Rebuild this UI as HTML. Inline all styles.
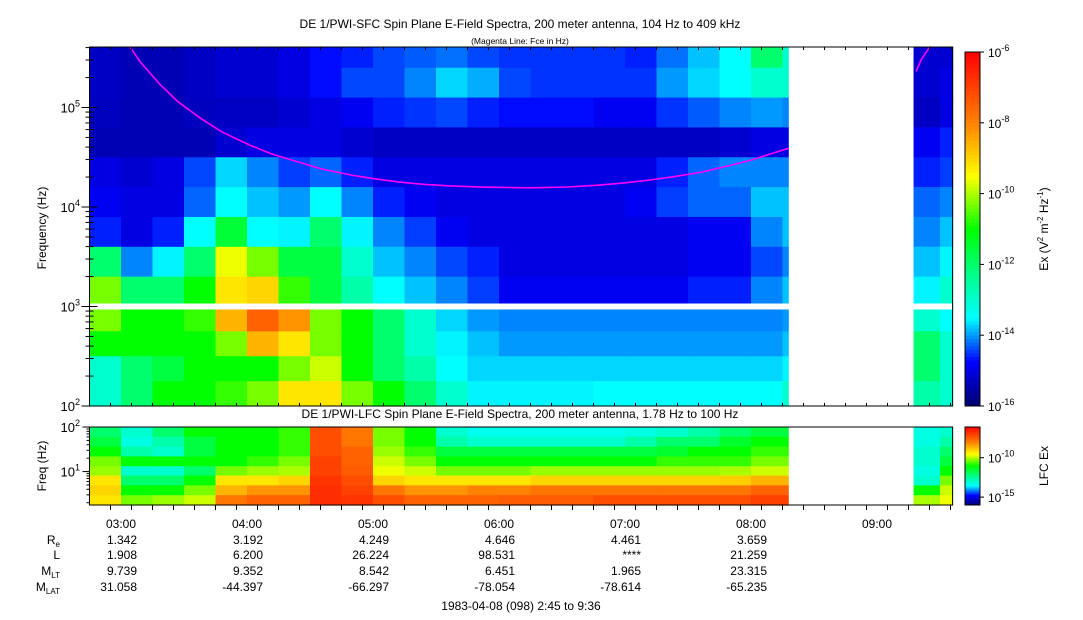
<!DOCTYPE html>
<html><head><meta charset="utf-8">
<style>
html,body{margin:0;padding:0;background:#fff;}
svg{display:block;font-family:"Liberation Sans",Arial,sans-serif;}
text{fill:#000;}
</style></head>
<body>
<svg id="chart" width="1083" height="620" viewBox="0 0 1083 620" xmlns="http://www.w3.org/2000/svg">
<text x="520" y="28" font-size="12" text-anchor="middle">DE 1/PWI-SFC  Spin Plane E-Field Spectra, 200 meter antenna, 104 Hz to 409 kHz</text>
<text x="520" y="44" font-size="8.5" text-anchor="middle">(Magenta Line: Fce in Hz)</text>
<text x="520" y="418" font-size="12" text-anchor="middle">DE 1/PWI-LFC  Spin Plane E-Field Spectra, 200 meter antenna, 1.78 Hz to 100 Hz</text>
<g id="sfc"></g>
<g id="lfc"></g>
<g id="axes"></g>
<text transform="translate(46,228) rotate(-90)" font-size="12" text-anchor="middle">Frequency (Hz)</text>
<text transform="translate(46,466) rotate(-90)" font-size="12" text-anchor="middle">Freq (Hz)</text>
<text transform="translate(1048,229) rotate(-90)" font-size="12" text-anchor="middle">Ex (V<tspan font-size="8" dy="-5">2</tspan><tspan dy="5"> m</tspan><tspan font-size="8" dy="-5">-2</tspan><tspan dy="5"> Hz</tspan><tspan font-size="8" dy="-5">-1</tspan><tspan dy="5">)</tspan></text>
<text transform="translate(1048,466) rotate(-90)" font-size="12" text-anchor="middle">LFC Ex</text>
<text x="521" y="610" font-size="12" text-anchor="middle">1983-04-08 (098) 2:45 to 9:36</text>
</svg>
<script>
// ---- data ----
const binHours = [2.75,3.0,3.25,3.5,3.75,4.0,4.25,4.5,4.75,5.0,5.25,5.5,5.75,6.0,6.25,6.5,6.75,7.0,7.25,7.5,7.75,8.0,8.25,8.5,8.75,9.0,9.25,9.5];
const sfcRowEdges = [5.61,5.4,5.1,4.8,4.5,4.2,3.9,3.6,3.3,3.0,2.75,2.5,2.25,2.0];
const sfcU8=[-15.25,-15.4,-15.4,-15.25,-15.15,-15.15,-15.0,-14.7,-14.6,-14.4,-14.3,-14.2,-14.4,-14.5,-14.5,-14.5,-14.5,-14.6,-14.2,-13.8,-13.5,-12.0,-13.0,null,null,null,-15.15,-15.15];
const sfcU7=[-15.25,-15.4,-15.4,-15.25,-15.15,-15.15,-15.0,-14.7,-14.4,-14.4,-14.1,-13.7,-13.9,-14.4,-14.5,-14.5,-14.5,-14.5,-14.0,-13.7,-13.5,-13.0,-13.0,null,null,null,-15.15,-15.0];
const sfcU6=[-15.3,-15.4,-15.4,-15.3,-15.25,-15.25,-15.15,-15.0,-14.85,-14.6,-14.5,-14.4,-14.6,-14.7,-14.7,-14.7,-14.85,-14.85,-14.5,-14.3,-14.1,-14.0,-14.1,null,null,null,-15.25,-15.0];
const sfcU5=[-15.4,-15.4,-15.4,-15.4,-15.15,-15.0,-15.0,-15.0,-15.15,-15.25,-15.25,-15.25,-15.25,-15.25,-15.25,-15.25,-15.25,-15.25,-15.25,-15.25,-15.15,-15.0,-15.0,null,null,null,-14.85,-14.6];
const sfcU4=[-15.0,-15.15,-15.0,-14.4,-13.7,-14.1,-14.45,-14.25,-14.6,-15.0,-15.0,-15.0,-15.0,-15.0,-15.0,-15.0,-15.0,-15.0,-14.6,-14.25,-14.1,-14.1,-14.1,null,null,null,-14.6,-14.45];
const sfcU3=[-14.85,-15.0,-15.0,-14.25,-13.5,-13.8,-14.0,-13.5,-14.1,-14.6,-14.85,-15.0,-15.0,-15.0,-15.0,-15.0,-15.0,-14.85,-14.45,-14.25,-14.25,-13.8,-13.8,null,null,null,-14.25,-14.1];
const sfcU2=[-14.6,-15.0,-14.6,-13.5,-11.5,-13.5,-13.55,-12.0,-13.55,-14.1,-14.45,-14.85,-15.0,-15.0,-15.0,-15.0,-15.0,-15.0,-15.0,-14.85,-14.85,-14.1,-13.8,null,null,null,-14.1,-13.8];
const sfcU1=[-12.0,-14.1,-13.55,-12.0,-9.6,-10.3,-11.6,-11.6,-13.0,-13.8,-14.1,-14.4,-14.6,-15.0,-15.0,-15.0,-15.0,-15.0,-15.0,-14.85,-14.85,-14.4,-14.1,null,null,null,-13.8,-13.55];
const sfcU0=[-10.3,-12.0,-12.0,-11.0,-9.2,-9.0,-10.7,-11.6,-12.6,-13.5,-13.8,-14.1,-14.45,-14.85,-14.85,-14.85,-14.85,-14.85,-14.85,-14.6,-14.6,-14.1,-13.8,null,null,null,-13.55,-13.0];
const sfcL3=[-10.3,-11.0,-11.0,-10.7,-8.6,-7.5,-8.2,-10.3,-11.0,-12.0,-13.0,-13.7,-14.0,-14.1,-14.1,-14.1,-14.1,-14.1,-14.1,-14.1,-14.1,-14.1,-14.0,null,null,null,-13.0,-13.5];
const sfcL2=[-11.0,-11.0,-11.0,-11.0,-10.3,-8.6,-9.2,-10.3,-11.0,-12.0,-13.0,-13.55,-13.8,-14.0,-14.0,-14.0,-14.0,-14.0,-14.0,-14.0,-14.0,-14.0,-13.8,null,null,null,-12.0,-13.0];
const sfcL1=[-13.0,-12.0,-11.6,-11.0,-11.0,-11.0,-10.3,-9.8,-11.0,-12.0,-12.6,-13.5,-13.7,-13.7,-13.7,-13.7,-13.7,-13.7,-13.7,-13.7,-13.7,-13.7,-13.55,null,null,null,-12.0,-13.0];
const sfcL0=[-13.0,-12.0,-11.0,-11.0,-10.7,-10.3,-9.2,-9.2,-10.3,-11.0,-12.0,-13.0,-13.55,-13.55,-13.55,-13.55,-13.5,-13.5,-13.5,-13.5,-13.5,-13.5,-13.0,null,null,null,-12.6,-13.0];
const sfcRows=[sfcU8,sfcU7,sfcU6,sfcU5,sfcU4,sfcU3,sfcU2,sfcU1,sfcU0,sfcL3,sfcL2,sfcL1,sfcL0];

const lfcRowEdges=[2.0,1.78,1.56,1.34,1.12,0.91,0.69,0.47,0.25];
const lfcR7=[-12.0,-13.0,-12.0,-11.0,-11.0,-11.0,-10.7,-7.2,-7.8,-10.3,-11.0,-13.0,-13.3,-13.3,-13.3,-13.3,-13.3,-13.2,-13.0,-12.6,-12.0,-11.6,-11.6,null,null,null,-13.2,-13.0];
const lfcR6=[-11.6,-13.2,-12.6,-11.6,-11.0,-11.0,-10.7,-7.2,-7.8,-10.3,-11.0,-12.6,-13.0,-13.0,-13.0,-13.0,-13.0,-12.6,-12.0,-12.0,-11.4,-11.0,-11.0,null,null,null,-13.2,-12.6];
const lfcR5=[-11.0,-12.6,-13.0,-11.6,-11.0,-11.0,-10.7,-7.2,-7.5,-10.1,-10.7,-11.6,-11.6,-11.6,-11.6,-11.6,-11.6,-11.6,-11.4,-11.0,-11.0,-10.7,-10.7,null,null,null,-13.0,-12.0];
const lfcR4=[-10.3,-11.0,-11.0,-11.0,-11.0,-10.7,-10.3,-7.0,-7.5,-9.8,-10.3,-11.0,-11.0,-11.0,-11.0,-11.0,-11.0,-11.0,-10.7,-10.7,-10.7,-10.3,-10.3,null,null,null,-13.0,-11.6];
const lfcR3=[-10.1,-13.0,-13.0,-12.0,-10.3,-10.1,-10.0,-7.0,-7.4,-9.6,-9.8,-10.3,-10.3,-10.3,-10.1,-10.1,-10.1,-10.1,-10.1,-10.1,-10.0,-9.8,-9.8,null,null,null,-13.2,-11.0];
const lfcR2=[-9.2,-12.0,-12.0,-11.0,-9.2,-9.2,-9.0,-6.8,-7.2,-9.0,-9.2,-9.2,-9.2,-9.2,-9.0,-9.0,-9.0,-9.0,-9.0,-9.0,-8.9,-8.6,-8.6,null,null,null,-13.0,-10.3];
const lfcR1=[-9.0,-11.0,-11.0,-10.3,-8.6,-8.2,-8.2,-6.7,-7.0,-7.8,-8.2,-8.2,-8.0,-8.0,-7.8,-7.8,-7.8,-7.8,-7.8,-7.8,-7.8,-7.5,-7.5,null,null,null,-11.0,-9.8];
const lfcR0=[-9.2,-10.3,-10.1,-9.8,-7.8,-7.5,-7.5,-6.7,-6.8,-7.2,-7.5,-7.5,-7.5,-7.4,-7.4,-7.4,-7.2,-7.2,-7.2,-7.2,-7.2,-7.0,-7.0,null,null,null,-10.0,-9.6];
const lfcRows=[lfcR7,lfcR6,lfcR5,lfcR4,lfcR3,lfcR2,lfcR1,lfcR0];

const fceHours1=[3.07,3.15,3.31,3.45,3.63,3.80,4.02,4.20,4.42,4.60,4.82,5.00,5.21,5.40,5.61,5.90,6.25,6.55,6.80,7.00,7.20,7.40,7.60,7.80,8.00,8.15,8.30];
const fceHz1=[409000,290000,170000,115000,78000,57000,42000,34000,28000,24000,21000,19300,17800,16900,16300,15800,15600,15900,16600,17500,18700,20300,22300,25500,29600,34000,39000];
const fceHours2=[9.31,9.35,9.42];
const fceHz2=[230000,300000,409000];

const gapStart=8.30, gapEnd=9.29, tEnd=9.60, tStart=2.75;
const sfcWhiteBand=[2.97,3.03];
const timeTicks=["03:00","04:00","05:00","06:00","07:00","08:00","09:00"];
const tickHours=[3,4,5,6,7,8,9];
const ephRe=["1.342","3.192","4.249","4.646","4.461","3.659"];
const ephL=["1.908","6.200","26.224","98.531","****","21.259"];
const ephMLT=["9.739","9.352","8.542","6.451","1.965","23.315"];
const ephMLAT=["31.058","-44.397","-66.297","-78.054","-78.614","-65.235"];
const cbExps=[-6,-8,-10,-12,-14,-16];
const lfcCbExps=[-10,-15];

// ---- scales ----
const X0=89.5, PXH=126;
const xs=h=>X0+(h-tStart)*PXH;
const ys=L=>406-(L-2)*99.5;
const ysL=L=>505-(L-0.25)*(78/1.75);
const cbY=v=>52+(-6-v)*(354/10);
const cbYL=v=>427+(-6.1-v)*(78/9.9);
const cmapStops=[[-16,0,0,110],[-14.75,0,0,255],[-13.5,0,255,255],[-12.3,0,255,140],[-11,0,255,0],[-9.5,255,255,0],[-8,255,130,0],[-6,255,0,0]];
function cmap(v){
  v=Math.max(-16,Math.min(-6,v));
  for(let i=0;i<cmapStops.length-1;i++){
    const a=cmapStops[i],b=cmapStops[i+1];
    if(v<=b[0]){const t=(v-a[0])/(b[0]-a[0]);
      return `rgb(${Math.round(a[1]+t*(b[1]-a[1]))},${Math.round(a[2]+t*(b[2]-a[2]))},${Math.round(a[3]+t*(b[3]-a[3]))})`;}
  }
  return 'rgb(255,0,0)';
}
const NS="http://www.w3.org/2000/svg";
function mk(tag,attrs,parent){const e=document.createElementNS(NS,tag);for(const k in attrs)e.setAttribute(k,attrs[k]);parent.appendChild(e);return e;}

const sfc=document.getElementById('sfc'), lfc=document.getElementById('lfc'), ax=document.getElementById('axes');

function drawGrid(rows,edges,yf,g,name){
  rows.forEach((row,ri)=>{
    row.forEach((v,bi)=>{
      if(v===null)return;
      const h0=binHours[bi], h1=Math.min(h0+0.25,tEnd);
      const xa=xs(h0), xb=xs(h1);
      const ya=yf(edges[ri]), yb=yf(edges[ri+1]);
      const r=mk('rect',{x:xa,y:ya,width:xb-xa+0.6,height:yb-ya+0.6,fill:cmap(v)},g);
      
      
    });
  });
  const gp=mk('rect',{x:xs(gapStart),y:yf(edges[0])-1,width:xs(gapEnd)-xs(gapStart),height:yf(edges[edges.length-1])-yf(edges[0])+2,fill:'#fff'},g);
  
  
}
drawGrid(sfcRows,sfcRowEdges,ys,sfc,'sfc-cell');
drawGrid(lfcRows,lfcRowEdges,ysL,lfc,'lfc-cell');
const wb=mk('rect',{x:X0,y:ys(sfcWhiteBand[1]),width:xs(tEnd)-X0,height:ys(sfcWhiteBand[0])-ys(sfcWhiteBand[1]),fill:'#fff'},sfc);



function fceLine(hs,hz){
  const pts=hs.map((h,i)=>xs(h).toFixed(1)+','+ys(Math.log10(hz[i])).toFixed(1)).join(' ');
  const p=mk('polyline',{points:pts,fill:'none',stroke:'#ff00ff','stroke-width':1.6,'stroke-linejoin':'round'},sfc);
  
  
}
fceLine(fceHours1,fceHz1); fceLine(fceHours2,fceHz2);

const xR=xs(tEnd);
const f1=mk('rect',{x:X0,y:47,width:xR-X0,height:359,fill:'none',stroke:'#000','stroke-width':1},ax);
 
const f2=mk('rect',{x:X0,y:427,width:xR-X0,height:78,fill:'none',stroke:'#000','stroke-width':1},ax);
 

for(let d=2;d<=5;d++){
  for(let m=1;m<10;m++){
    const L=d+Math.log10(m); if(L>5.61)break;
    const y=ys(L), len=m===1?8:4;
    mk('line',{x1:X0,x2:X0+len,y1:y,y2:y,stroke:'#000'},ax);
    mk('line',{x1:X0,x2:X0-len,y1:y,y2:y,stroke:'#000'},ax);
  }
  const t=mk('text',{x:80,y:ys(d)+5,'font-size':13,'text-anchor':'end'},ax);
   
  t.innerHTML='10<tspan font-size="9" dy="-6">'+d+'</tspan>';
}
for(let d=0;d<=2;d++){
  for(let m=1;m<10;m++){
    const L=d+Math.log10(m); if(L<0.25||L>2)continue;
    const y=ysL(L), len=m===1?7:3;
    mk('line',{x1:X0,x2:X0-len,y1:y,y2:y,stroke:'#000'},ax);
  }
}
[[2,"2"],[1,"1"]].forEach(([d,s])=>{
  const t=mk('text',{x:80,y:ysL(d)+5,'font-size':13,'text-anchor':'end'},ax);
   
  t.innerHTML='10<tspan font-size="9" dy="-6">'+s+'</tspan>';
});
for(let h=2.75+1/6;h<tEnd;h+=1/6){
  const x=xs(h);
  const major=Math.abs(h-Math.round(h))<0.01;
  mk('line',{x1:x,x2:x,y1:505,y2:505+(major?10:5),stroke:'#000'},ax);
  mk('line',{x1:x,x2:x,y1:406,y2:406-(major?6:3),stroke:'#000'},ax);
  mk('line',{x1:x,x2:x,y1:47,y2:47+(major?6:3),stroke:'#000'},ax);
}
timeTicks.forEach((s,i)=>{
  const t=mk('text',{x:xs(tickHours[i]),y:528,'font-size':12,'text-anchor':'middle'},ax);
   
  t.textContent=s;
});
const ephRows=[[ephRe,'R<tspan font-size="8" dy="3">e</tspan>',544],[ephL,'L',559],[ephMLT,'M<tspan font-size="8" dy="3">LT</tspan>',575],[ephMLAT,'M<tspan font-size="8" dy="3">LAT</tspan>',591]];
ephRows.forEach(([arr,lab,y])=>{
  const l=mk('text',{x:60,y:y,'font-size':12,'text-anchor':'end'},ax);
   
  l.innerHTML=lab;
  arr.forEach((s,i)=>{
    const t=mk('text',{x:xs(tickHours[i])+16,y:y,'font-size':12,'text-anchor':'end'},ax);
     
    t.textContent=s;
  });
});
const CBX=965, CBW=15;
for(let i=0;i<100;i++){
  const v=-16+i*0.1;
  const y1=cbY(v+0.1), y2=cbY(v);
  mk('rect',{x:CBX,y:y1,width:CBW,height:y2-y1+0.5,fill:cmap(v+0.05)},ax);
}
const cb=mk('rect',{x:CBX,y:52,width:CBW,height:354,fill:'none',stroke:'#000'},ax);
 
cbExps.forEach(e=>{
  const y=cbY(e);
  mk('line',{x1:CBX+CBW,x2:CBX+CBW+4,y1:y,y2:y,stroke:'#000'},ax);
  const t=mk('text',{x:988,y:y+5,'font-size':12},ax);
   
  t.innerHTML='10<tspan font-size="9" dy="-6">'+e+'</tspan>';
});
for(let i=0;i<99;i++){
  const v=-16+i*0.1;
  const y1=cbYL(v+0.1), y2=cbYL(v);
  mk('rect',{x:CBX,y:y1,width:CBW,height:y2-y1+0.5,fill:cmap(v+0.05)},ax);
}
const cb2=mk('rect',{x:CBX,y:427,width:CBW,height:78,fill:'none',stroke:'#000'},ax);
 
lfcCbExps.forEach(e=>{
  const y=cbYL(e);
  mk('line',{x1:CBX+CBW,x2:CBX+CBW+4,y1:y,y2:y,stroke:'#000'},ax);
  const t=mk('text',{x:988,y:y+5,'font-size':12},ax);
   
  t.innerHTML='10<tspan font-size="9" dy="-6">'+e+'</tspan>';
});
</script>
</body></html>
